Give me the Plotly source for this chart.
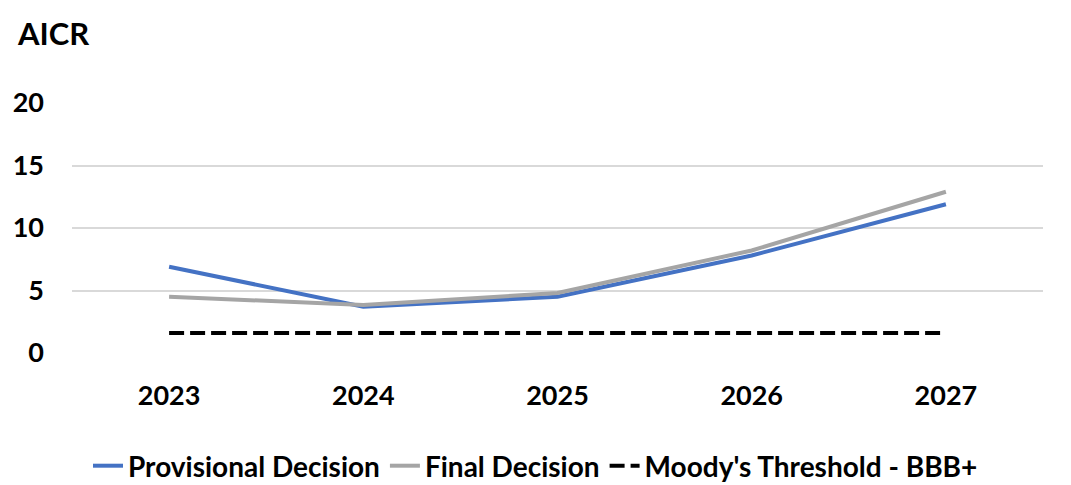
import plotly.graph_objects as go

years = ["2023", "2024", "2025", "2026", "2027"]
provisional = [6.9, 3.7, 4.5, 7.8, 11.9]
final = [4.5, 3.85, 4.8, 8.2, 12.9]
threshold = [1.6, 1.6, 1.6, 1.6, 1.6]
y_ticks = [0, 5, 10, 15, 20]

FONT = "Lato, 'Open Sans', sans-serif"

fig = go.Figure()
fig.add_trace(go.Scatter(x=years, y=provisional, mode="lines", name="Provisional Decision",
                         line=dict(color="#4472C4", width=4)))
fig.add_trace(go.Scatter(x=years, y=final, mode="lines", name="Final Decision",
                         line=dict(color="#A5A5A5", width=4)))
fig.add_trace(go.Scatter(x=years, y=threshold, mode="lines", name="Moody's Threshold - BBB+",
                         line=dict(color="#000000", width=4, dash="15px,6px")))

fig.update_layout(
    width=1071, height=485,
    margin=dict(l=72, r=28, t=103, b=132, autoexpand=False),
    plot_bgcolor="white", paper_bgcolor="white",
    font=dict(family=FONT, size=27, color="#000000"),
    showlegend=True,
    legend=dict(orientation="h", x=0.5, xanchor="center", xref="container",
                y=(485 - 466) / 485, yanchor="middle", yref="container",
                font=dict(family=FONT, size=28, color="#000000", weight="bold"),
                itemwidth=30, tracegroupgap=0),
)
fig.add_annotation(text="<b>AICR</b>", xref="paper", yref="paper",
                   x=-(72 - 15) / 971, y=1 + (103 - 33) / 250, xanchor="left", yanchor="middle",
                   showarrow=False, font=dict(family=FONT, size=31, color="#000000"))

fig.update_xaxes(type="category", range=[-0.5, 4.5], showgrid=False, showline=False,
                 ticks="", tickfont=dict(family=FONT, size=27, weight="bold"), ticklabelstandoff=24)
fig.update_yaxes(range=[0, 20], tickvals=y_ticks, showgrid=True, gridcolor="#D9D9D9",
                 gridwidth=1.5, zeroline=False, showline=False, ticks="",
                 tickfont=dict(family=FONT, size=27, weight="bold"), ticklabelstandoff=27)

fig.write_html("out.html")
